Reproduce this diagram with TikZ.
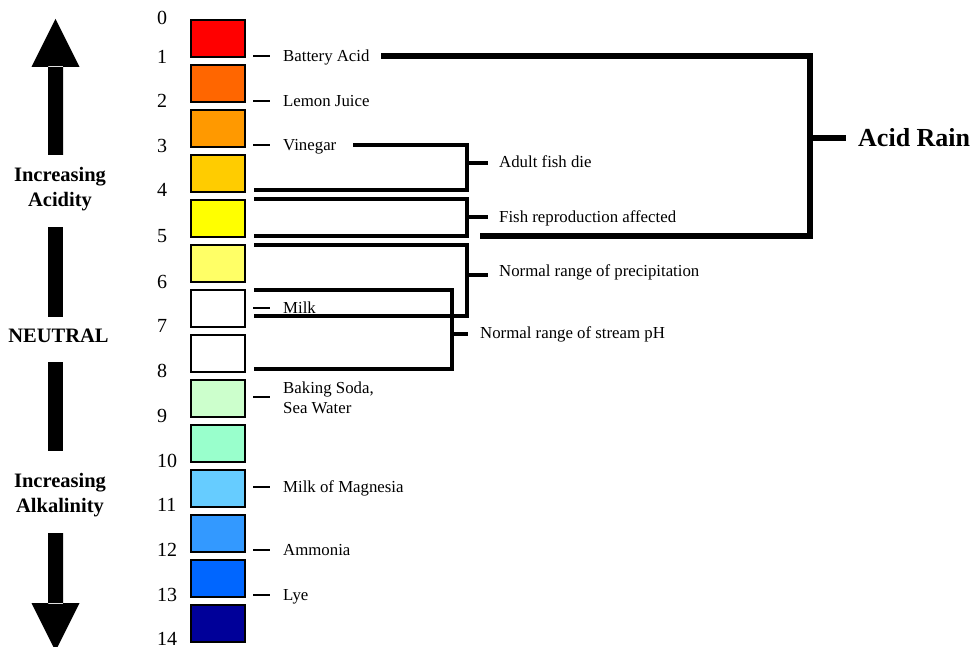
\documentclass[tikz,border=0pt]{standalone}
\usepackage{fontspec}
\setmainfont{Liberation Serif}
\definecolor{ph0}{HTML}{FF0000}
\definecolor{ph1}{HTML}{FF6600}
\definecolor{ph2}{HTML}{FF9900}
\definecolor{ph3}{HTML}{FFCC00}
\definecolor{ph4}{HTML}{FFFF00}
\definecolor{ph5}{HTML}{FFFF66}
\definecolor{ph6}{HTML}{FFFFFF}
\definecolor{ph7}{HTML}{FFFFFF}
\definecolor{ph8}{HTML}{CCFFCC}
\definecolor{ph9}{HTML}{99FFCC}
\definecolor{ph10}{HTML}{66CCFF}
\definecolor{ph11}{HTML}{3399FF}
\definecolor{ph12}{HTML}{0066FF}
\definecolor{ph13}{HTML}{000099}
\begin{document}
\begin{tikzpicture}[x=1pt,y=-1pt,
  phbox/.style={draw=black,line width=1.6pt,minimum width=54pt,minimum height=37pt,inner sep=0pt,anchor=north west},
  num/.style={font=\fontsize{20}{22}\selectfont,anchor=base west,inner sep=0pt},
  lbl/.style={font=\fontsize{16.8}{20}\selectfont,anchor=base west,inner sep=0pt,align=left},
  side/.style={font=\bfseries\fontsize{20.5}{25}\selectfont,align=center,inner sep=0pt},
  dashline/.style={line width=1.6pt},
  brk/.style={line width=3.4pt},
  bigbrk/.style={line width=5.5pt},
]
\useasboundingbox (0,0) rectangle (974,647);

% left arrows and bars
\fill (48,155) rectangle (63,66) (31.5,67) -- (79.5,67) -- (55.5,19) -- cycle;
\fill (48,227) rectangle (63,317);
\fill (48,362) rectangle (63,451);
\fill (48,533) rectangle (63,604) (31.5,603) -- (79.5,603) -- (55.5,651) -- cycle;
\node[side] (acid) at (60,189) {Increasing\\Acidity};
\node[side] (neut) at (58.5,336) {NEUTRAL};
\node[side] (alk) at (60,495) {Increasing\\Alkalinity};

% pH boxes
\foreach \i in {0,...,13}{
  \node[phbox,fill=ph\i] (b\i) at (190,{19+45*\i}) {};
}
% numbers
\foreach \i/\y in {0/18,1/57,2/101,3/146,4/190,5/236,6/282,7/326,8/371,9/416,10/461,11/505,12/550,13/595,14/639}{
  \node[num] (n\i) at (157,\y+6.8) {\i};
}

% labels
\foreach \n/\y/\t in {bat/56/Battery Acid,lem/101/Lemon Juice,vin/145/Vinegar,milk/308/Milk,mag/487/Milk of Magnesia,amm/550/Ammonia,lye/595/Lye}{
  \coordinate (d\n) at (253,\y);
  \node[lbl] (\n) at (283,\y+5.5) {\t};
  \draw[dashline] (d\n) -- ++(17,0);
}
\coordinate (dsoda) at (253,397);
\node[lbl,anchor=west] (soda) at (283,398) {Baking Soda,\\Sea Water};
\draw[dashline] (dsoda) -- ++(17,0);

% brackets
\coordinate (v1) at (353,145); \coordinate (v2) at (254,190); \coordinate (vx) at (467,163);
\draw[brk] (v1) -| (467,190) -- (v2);
\draw[brk] (vx) -- ++(21,0);
\node[lbl] (adult) at (499,162+5.5) {Adult fish die};

\coordinate (f1) at (254,199); \coordinate (f2) at (254,236); \coordinate (fx) at (467,217);
\draw[brk] (f1) -| (467,236) -- (f2);
\draw[brk] (fx) -- ++(21,0);
\node[lbl] (fish) at (499,217+5.5) {Fish reproduction affected};

\coordinate (p1) at (254,245); \coordinate (p2) at (254,316); \coordinate (px) at (467,275);
\draw[brk] (p1) -| (467,316) -- (p2);
\draw[brk] (px) -- ++(21,0);
\node[lbl] (precip) at (499,271+5.5) {Normal range of precipitation};

\coordinate (s1) at (254,290); \coordinate (s2) at (254,369); \coordinate (sx) at (452,334);
\draw[brk] (s1) -| (452,369) -- (s2);
\draw[brk] (sx) -- ++(16,0);
\node[lbl] (stream) at (480,333+5.5) {Normal range of stream pH};

\coordinate (a1) at (381,56); \coordinate (a2) at (480,236); \coordinate (ax) at (810,138);
\draw[bigbrk] (a1) -| (810,236) -- (a2);
\draw[bigbrk] (ax) -- ++(36,0);
\node[anchor=base west,inner sep=0pt,font=\bfseries\fontsize{26}{30}\selectfont] (rain) at (858,138+8.6) {Acid Rain};
\end{tikzpicture}
\end{document}
